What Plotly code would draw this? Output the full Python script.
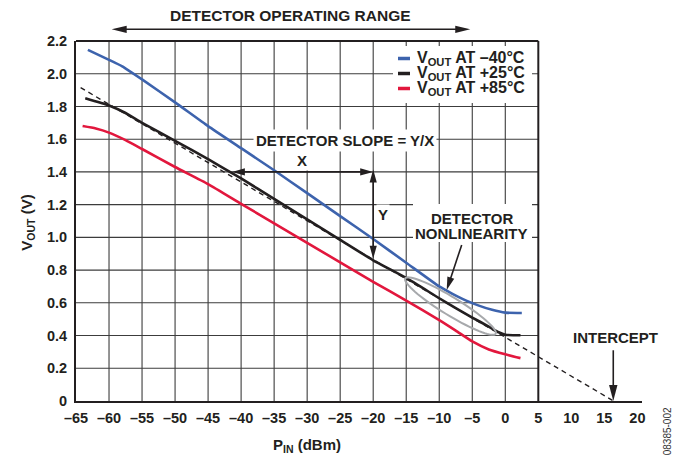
import math
import plotly.graph_objects as go

# ---------------- data ----------------
PIN_M40 = [-63.2, -60, -58, -55, -50, -45, -40, -35, -30, -25, -20, -15, -10, -8, -6, -4, -2, 0, 2.5]
VOUT_M40 = [2.146, 2.085, 2.045, 1.965, 1.825, 1.68, 1.545, 1.41, 1.27, 1.13, 0.99, 0.845, 0.70, 0.655, 0.615, 0.583, 0.557, 0.54, 0.538]

PIN_P25 = [-63.6, -60, -57.5, -55, -50, -45, -40, -35, -30, -25, -20, -15, -10, -7.5, -5, -2.5, -1, 0, 2.3]
VOUT_P25 = [1.85, 1.806, 1.76, 1.70, 1.59, 1.478, 1.36, 1.235, 1.11, 0.985, 0.86, 0.752, 0.628, 0.568, 0.51, 0.455, 0.42, 0.405, 0.402]

PIN_P85 = [-64, -62, -60, -57.5, -55, -50, -45, -40, -35, -30, -25, -20, -15, -10, -7.5, -5, -2.5, 0, 2.3]
VOUT_P85 = [1.68, 1.665, 1.64, 1.594, 1.54, 1.43, 1.326, 1.205, 1.086, 0.967, 0.847, 0.728, 0.614, 0.494, 0.43, 0.364, 0.315, 0.285, 0.262]

SLOPE_LINE_PIN = [-64.3, 16.4]
SLOPE_LINE_VOUT = [1.915, 0.0]

SERIES_NAMES = ["V<sub>OUT</sub> AT –40°C", "V<sub>OUT</sub> AT +25°C", "V<sub>OUT</sub> AT +85°C"]

X_TICKVALS = [-65, -60, -55, -50, -45, -40, -35, -30, -25, -20, -15, -10, -5, 0, 5, 10, 15, 20]
X_TICKTEXT = ["–65", "–60", "–55", "–50", "–45", "–40", "–35", "–30", "–25", "–20",
              "–15", "–10", "–5", "0", "5", "10", "15", "20"]
Y_TICKVALS = [0, 0.2, 0.4, 0.6, 0.8, 1.0, 1.2, 1.4, 1.6, 1.8, 2.0, 2.2]
Y_TICKTEXT = ["0", "0.2", "0.4", "0.6", "0.8", "1.0", "1.2", "1.4", "1.6", "1.8", "2.0", "2.2"]

X_GRID = [-60, -55, -50, -45, -40, -35, -30, -25, -20, -15, -10, -5, 0]
Y_GRID = [0.2, 0.4, 0.6, 0.8, 1.0, 1.2, 1.4, 1.6, 1.8, 2.0]

# ---------------- styling / geometry ----------------
W, H = 676, 455
ML, MR, MT, MB = 76, 34, 41, 54
PW, PH = W - ML - MR, H - MT - MB
X0, X1 = -65, 20.7
Y0, Y1 = 0, 2.2
FRAME_X_END = 5
SX = PW / (X1 - X0)
SY = PH / (Y1 - Y0)

FONT = "Liberation Sans, Arial, Helvetica, sans-serif"
INK = "#231f20"
BLUE = "#3d63ad"
BLACK = "#231f20"
RED = "#e2173d"
GRID = "#3c3c3c"
GRAY = "#a7a9ac"
COLORS = [BLUE, BLACK, RED]


def to_px(x, y, yref):
    X = ML + (x - X0) * SX
    Y = MT + PH - ((y - Y0) * SY if yref == "y" else y * PH)
    return X, Y


def from_px(X, Y, yref):
    x = X0 + (X - ML) / SX
    y = (MT + PH - Y) / SY + Y0 if yref == "y" else (MT + PH - Y) / PH
    return x, y


def arrow_shapes(x0, y0, x1, y1, yref="y", heads=("end",), hl=13, hw=3.6, width=1.6, color=INK):
    P0 = to_px(x0, y0, yref)
    P1 = to_px(x1, y1, yref)
    dx, dy = P1[0] - P0[0], P1[1] - P0[1]
    L = math.hypot(dx, dy)
    ux, uy = dx / L, dy / L
    nx, ny = -uy, ux
    out = []

    def head(tip, u):
        base = (tip[0] - u[0] * hl, tip[1] - u[1] * hl)
        pts = [tip, (base[0] + nx * hw, base[1] + ny * hw), (base[0] - nx * hw, base[1] - ny * hw)]
        dpts = [from_px(p[0], p[1], yref) for p in pts]
        path = "M" + " L".join(f"{a:.5f},{b:.5f}" for a, b in dpts) + " Z"
        return dict(type="path", path=path, xref="x", yref=yref, fillcolor=color,
                    line=dict(width=0, color=color), layer="above")

    s, e = P0, P1
    if "end" in heads:
        out.append(head(P1, (ux, uy)))
        e = (P1[0] - ux * hl * 0.7, P1[1] - uy * hl * 0.7)
    if "start" in heads:
        out.append(head(P0, (-ux, -uy)))
        s = (P0[0] + ux * hl * 0.7, P0[1] + uy * hl * 0.7)
    a = from_px(s[0], s[1], yref)
    b = from_px(e[0], e[1], yref)
    out.append(dict(type="line", x0=a[0], y0=a[1], x1=b[0], y1=b[1], xref="x", yref=yref,
                    line=dict(color=color, width=width), layer="above"))
    return out


def ellipse_path(cx, cy, a_px, b_px, ang_deg, n=72):
    C = to_px(cx, cy, "y")
    th = math.radians(ang_deg)
    pts = []
    for i in range(n + 1):
        t = 2 * math.pi * i / n
        u, v = a_px * math.cos(t), b_px * math.sin(t)
        px = u * math.cos(th) - v * math.sin(th)
        py = u * math.sin(th) + v * math.cos(th)
        pts.append(from_px(C[0] + px, C[1] - py, "y"))
    return "M" + " L".join(f"{a:.5f},{b:.5f}" for a, b in pts) + " Z"


def white_box(px0, py0, px1, py1):
    a = from_px(px0, py0, "y")
    b = from_px(px1, py1, "y")
    return dict(type="rect", xref="x", yref="y", x0=a[0], x1=b[0], y0=b[1], y1=a[1],
                fillcolor="white", line=dict(width=0), layer="between")


fig = go.Figure()

# curves
for xs, ys, name, col in [(PIN_M40, VOUT_M40, SERIES_NAMES[0], BLUE),
                          (PIN_P25, VOUT_P25, SERIES_NAMES[1], BLACK),
                          (PIN_P85, VOUT_P85, SERIES_NAMES[2], RED)]:
    fig.add_trace(go.Scatter(x=xs, y=ys, mode="lines", name=name, showlegend=False,
                             line=dict(color=col, width=2.6, shape="spline", smoothing=0.5),
                             hoverinfo="skip"))

fig.add_trace(go.Scatter(x=SLOPE_LINE_PIN, y=SLOPE_LINE_VOUT, mode="lines", showlegend=False,
                         line=dict(color=INK, width=1.4, dash="5px,4px"), hoverinfo="skip"))

shapes = []
# grid (limited to frame region)
for gx in X_GRID:
    shapes.append(dict(type="line", xref="x", yref="y", x0=gx, x1=gx, y0=Y0, y1=Y1,
                       line=dict(color=GRID, width=1.1), layer="between"))
for gy in Y_GRID:
    shapes.append(dict(type="line", xref="x", yref="y", x0=X0, x1=FRAME_X_END, y0=gy, y1=gy,
                       line=dict(color=GRID, width=1.1), layer="between"))
# frame top and right
shapes.append(dict(type="line", xref="x", yref="paper", x0=X0, x1=FRAME_X_END, y0=1, y1=1,
                   line=dict(color=INK, width=2), layer="above"))
shapes.append(dict(type="line", xref="x", yref="y", x0=FRAME_X_END, x1=FRAME_X_END, y0=Y0, y1=Y1,
                   line=dict(color=INK, width=2), layer="between"))

# white boxes behind legend and the nonlinearity label
shapes.append(white_box(393, 46, 532, 103))
shapes.append(white_box(413, 204, 532, 242))

leg_rows_px = [58.5, 73.5, 88.5]
sx0, _ = from_px(398, 0, "y")
sx1, _ = from_px(410, 0, "y")
tx, _ = from_px(415, 0, "y")
annotations = []
for row, col, name in zip(leg_rows_px, COLORS, SERIES_NAMES):
    _, ry = from_px(0, row, "y")
    shapes.append(dict(type="line", xref="x", yref="y", x0=sx0, x1=sx1, y0=ry, y1=ry,
                       line=dict(color=col, width=3.5), layer="above"))
    annotations.append(dict(x=tx, y=ry, xref="x", yref="y", text="<b>" + name + "</b>",
                            showarrow=False, xanchor="left", yanchor="middle",
                            font=dict(size=16, color=INK, family=FONT)))

# nonlinearity ellipse
shapes.append(dict(type="path", xref="x", yref="y", path=ellipse_path(-8.3, 0.58, 53, 9, -31.5),
                   line=dict(color=GRAY, width=2), layer="above"))

# arrows
shapes += arrow_shapes(-59.6, 1.0325, -5.3, 1.0325, yref="paper", heads=("start", "end"), hl=15, hw=3.6)
shapes += arrow_shapes(-41.4, 1.4, -20, 1.4, heads=("start", "end"))
shapes += arrow_shapes(-20, 1.415, -20, 0.87, heads=("start", "end"))
shapes += arrow_shapes(-6.6, 0.954, -8.87, 0.678, heads=("end",))
shapes += arrow_shapes(16.35, 0.31, 16.35, 0.0, heads=("end",), hl=16, hw=4.2)


def txt(px, py, text, size=15, bg=None, pad=1):
    x, y = from_px(px, py, "y")
    d = dict(x=x, y=y, xref="x", yref="y", text="<b>" + text + "</b>", showarrow=False,
             xanchor="center", yanchor="middle", font=dict(size=size, color=INK, family=FONT))
    if bg:
        d.update(bgcolor=bg, borderpad=pad)
    return d


def paper_txt(px, py, text, size=15, angle=0, color=INK):
    return dict(x=(px - ML) / PW, y=(MT + PH - py) / PH, xref="paper", yref="paper",
                text=text, showarrow=False, textangle=angle, xanchor="center", yanchor="middle",
                font=dict(size=size, color=color, family=FONT))


annotations += [
    paper_txt(290, 15, "<b>DETECTOR OPERATING RANGE</b>", size=15.5),
    txt(345, 140, "DETECTOR SLOPE = Y/X", bg="white", pad=2),
    txt(301.7, 160.7, "X", bg="white", pad=1),
    txt(382.7, 214, "Y", bg="white", pad=1),
    txt(471.7, 218.5, "DETECTOR"),
    txt(471.7, 233.5, "NONLINEARITY"),
    txt(615, 337.3, "INTERCEPT"),
    paper_txt(306.7, 445, "<b>P<sub>IN</sub> (dBm)</b>"),
    paper_txt(26.7, 223, "<b>V<sub>OUT</sub> (V)</b>", angle=-90),
    paper_txt(667.3, 431, "08385-002", size=10, angle=-90, color="#333333"),
]

fig.update_layout(
    width=W, height=H,
    margin=dict(l=ML, r=MR, t=MT, b=MB, pad=0),
    paper_bgcolor="white", plot_bgcolor="white",
    showlegend=False,
    shapes=shapes, annotations=annotations,
    font=dict(family=FONT, color=INK),
)
fig.update_xaxes(range=[X0, X1], showgrid=False, zeroline=False, showline=True,
                 linecolor=INK, linewidth=2, tickvals=X_TICKVALS, ticktext=X_TICKTEXT,
                 ticks="", ticklabelstandoff=3,
                 tickfont=dict(size=14.5, color=INK, family=FONT, weight="bold"))
fig.update_yaxes(range=[Y0, Y1], showgrid=False, zeroline=False, showline=True,
                 linecolor=INK, linewidth=2, tickvals=Y_TICKVALS, ticktext=Y_TICKTEXT,
                 ticks="", ticklabelstandoff=4,
                 tickfont=dict(size=14.5, color=INK, family=FONT, weight="bold"))

fig.write_html("out.html", config={"displayModeBar": False},
               post_script="document.body.style.margin='0';")
